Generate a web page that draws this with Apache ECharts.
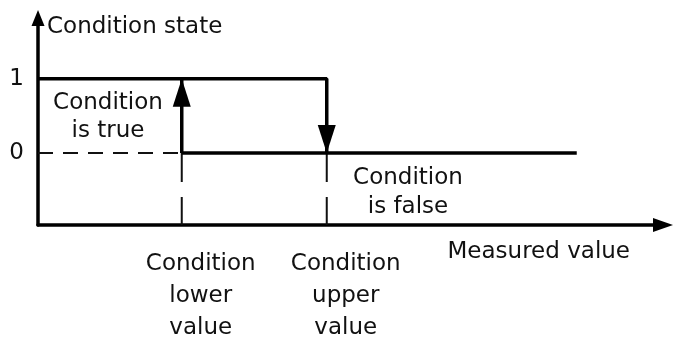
<!DOCTYPE html>
<html>
<head>
<meta charset="utf-8">
<script src="https://cdn.jsdelivr.net/npm/echarts@6/dist/echarts.min.js"></script>
<style>
  html, body { margin: 0; padding: 0; background: #fff; }
  #chart { width: 677px; height: 338px; }
</style>
</head>
<body>
<div id="chart"></div>
<script>
// thresholds on the measured value axis
const thresholdValues = [23, 46.2];
const thresholdLabels = ["Condition\nlower\nvalue", "Condition\nupper\nvalue"];
const stateTicks = [0, 1];
const axisMin = -0.97;

// state curve pieces
const stateTrue = [[0, 1], [46.2, 1], [46.2, 0]];
const stateFalse = [[23, 0], [86.2, 0]];
const riseShaft = [[23, 0], [23, 1]];
const zeroDashed = [[0, 0], [23, 0]];
const lowerDashed = [[23, 0], [23, axisMin]];
const upperDashed = [[46.2, 0], [46.2, axisMin]];
const headsUp = [[23, 1]];
const headsDown = [[46.2, 0]];

const font = "DejaVu Sans";
const chart = echarts.init(document.getElementById("chart"));

const solid = (data) => ({
  type: "line",
  data: data,
  symbol: "none",
  silent: true,
  lineStyle: { color: "#000", width: 3.5 },
});
const dashed = (data, dash) => ({
  type: "line",
  data: data,
  symbol: "none",
  silent: true,
  lineStyle: { color: "#111", width: 2, type: dash },
});
const head = (data, rotate, offset) => ({
  type: "scatter",
  data: data,
  symbol: "triangle",
  symbolSize: [18, 28],
  symbolRotate: rotate,
  symbolOffset: [0, offset],
  silent: true,
  itemStyle: { color: "#000", opacity: 1 },
});

chart.setOption({
  animation: false,
  grid: { left: 38, right: 14, top: 18, bottom: 113, outerBoundsMode: "none" },
  xAxis: {
    type: "value",
    min: 0,
    max: 100,
    name: "Measured value",
    nameLocation: "end",
    nameGap: -33,
    nameTextStyle: {
      fontFamily: font, fontSize: 23, color: "#111",
      align: "right", verticalAlign: "top", lineHeight: 26, padding: [14, 0, 0, 0],
    },
    axisLine: {
      onZero: false,
      symbol: ["none", "triangle"],
      symbolSize: [14, 20],
      lineStyle: { color: "#000", width: 3.5 },
    },
    axisTick: { show: false },
    splitLine: { show: false },
    axisLabel: { show: false },
  },
  yAxis: {
    type: "value",
    min: axisMin,
    max: 1.82,
    name: "Condition state",
    nameLocation: "end",
    nameGap: -9,
    nameTextStyle: {
      fontFamily: font, fontSize: 23, color: "#111",
      align: "left", verticalAlign: "middle", padding: [0, 0, 0, 9],
    },
    axisLine: {
      show: true,
      onZero: false,
      symbol: ["none", "triangle"],
      symbolSize: [13, 16],
      lineStyle: { color: "#000", width: 3.5 },
    },
    axisTick: { show: false },
    splitLine: { show: false },
    axisLabel: {
      customValues: stateTicks,
      fontFamily: font, fontSize: 23, color: "#111", margin: 14,
    },
  },
  graphic: [
    {
      type: "text", x: 108, y: 117,
      style: {
        text: "Condition\nis true", font: "23px " + font, fill: "#111",
        align: "center", verticalAlign: "middle", lineHeight: 28,
      },
    },
    {
      type: "text", x: 408, y: 193,
      style: {
        text: "Condition\nis false", font: "23px " + font, fill: "#111",
        align: "center", verticalAlign: "middle", lineHeight: 29,
      },
    },
  ],
  series: [
    dashed(zeroDashed, [15, 10]),
    dashed(lowerDashed, [29, 15]),
    dashed(upperDashed, [29, 15]),
    solid(stateTrue),
    solid(stateFalse),
    solid(riseShaft),
    head(headsUp, 0, "50%"),
    head(headsDown, 180, "-50%"),
    {
      // threshold names under the measured value axis
      type: "scatter",
      data: thresholdValues.map((v) => [v, axisMin]),
      symbolSize: 0,
      silent: true,
      itemStyle: { opacity: 1 },
      label: {
        show: true,
        position: "bottom",
        distance: 23,
        padding: [0, 0, 0, 38],
        formatter: (p) => thresholdLabels[p.dataIndex],
        fontFamily: font, fontSize: 23, color: "#111", lineHeight: 32,
      },
      labelLayout: { hideOverlap: false },
    },
  ],
});
</script>
</body>
</html>
